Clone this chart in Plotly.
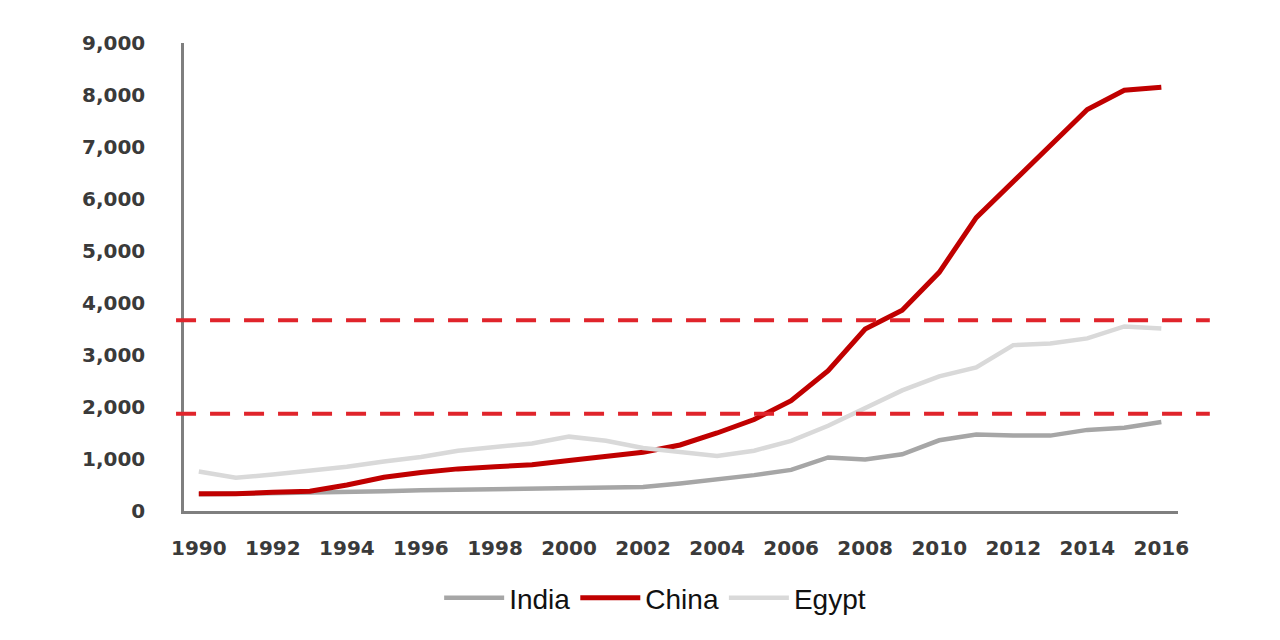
import plotly.graph_objects as go

YEARS = list(range(1990, 2017))

INDIA = [320, 330, 340, 340, 360, 380, 400, 410, 410, 420, 430, 440, 460, 530,
         600, 690, 790, 1030, 990, 1090, 1360, 1470, 1450, 1450, 1560, 1600, 1710]
CHINA = [330, 330, 360, 380, 500, 650, 740, 810, 850, 890, 970, 1060, 1130, 1270,
         1500, 1760, 2120, 2700, 3500, 3860, 4590, 5640, 6330, 7050, 7720, 8090, 8150]
EGYPT = [760, 640, 700, 770, 850, 950, 1040, 1160, 1240, 1300, 1430, 1350, 1210, 1130,
         1060, 1160, 1350, 1640, 1990, 2320, 2590, 2760, 3190, 3220, 3320, 3550, 3510]

# horizontal reference levels (dashed red)
THRESHOLDS = [3670, 1870]

Y_TICKS = list(range(0, 9001, 1000))
X_TICKS = list(range(1990, 2017, 2))

SERIES = [
    ("India", INDIA, "#a6a6a6", 4.5),
    ("China", CHINA, "#c00000", 5),
    ("Egypt", EGYPT, "#d9d9d9", 4.5),
]


def main() -> None:
    fig = go.Figure()
    for name, values, color, width in SERIES:
        fig.add_trace(
            go.Scatter(
                x=YEARS,
                y=values,
                name=name,
                mode="lines",
                line={"color": color, "width": width},
            )
        )

    for level in THRESHOLDS:
        fig.add_shape(
            type="line",
            xref="paper",
            yref="y",
            x0=-0.008,
            x1=1.032,
            y0=level,
            y1=level,
            line={"color": "#e0242b", "width": 4, "dash": "20px,14px"},
            layer="above",
        )

    tick_font = {"family": "DejaVu Sans", "size": 20, "color": "#3a3a3a", "weight": "bold"}
    fig.update_layout(
        width=1280,
        height=640,
        margin={"l": 176, "r": 110, "t": 35, "b": 137},
        plot_bgcolor="white",
        paper_bgcolor="white",
        showlegend=True,
        legend={
            "orientation": "h",
            "x": 0.474,
            "xanchor": "center",
            "y": -0.186,
            "yanchor": "middle",
            "font": {"family": "Liberation Sans", "size": 28, "color": "#111111"},
            "itemwidth": 60,
        },
        xaxis={
            "range": [1989.6, 2016.45],
            "tickvals": X_TICKS,
            "showgrid": False,
            "zeroline": False,
            "showline": True,
            "linecolor": "#7f7f7f",
            "linewidth": 2.5,
            "ticks": "",
            "tickfont": tick_font,
            "ticklabelstandoff": 17,
        },
        yaxis={
            "range": [0, 9000],
            "tickvals": Y_TICKS,
            "tickformat": ",",
            "showgrid": False,
            "zeroline": False,
            "showline": True,
            "linecolor": "#7f7f7f",
            "linewidth": 2.5,
            "ticks": "",
            "tickfont": tick_font,
            "ticklabelstandoff": 32,
        },
    )
    fig.write_html("out.html")


if __name__ == "__main__":
    main()
